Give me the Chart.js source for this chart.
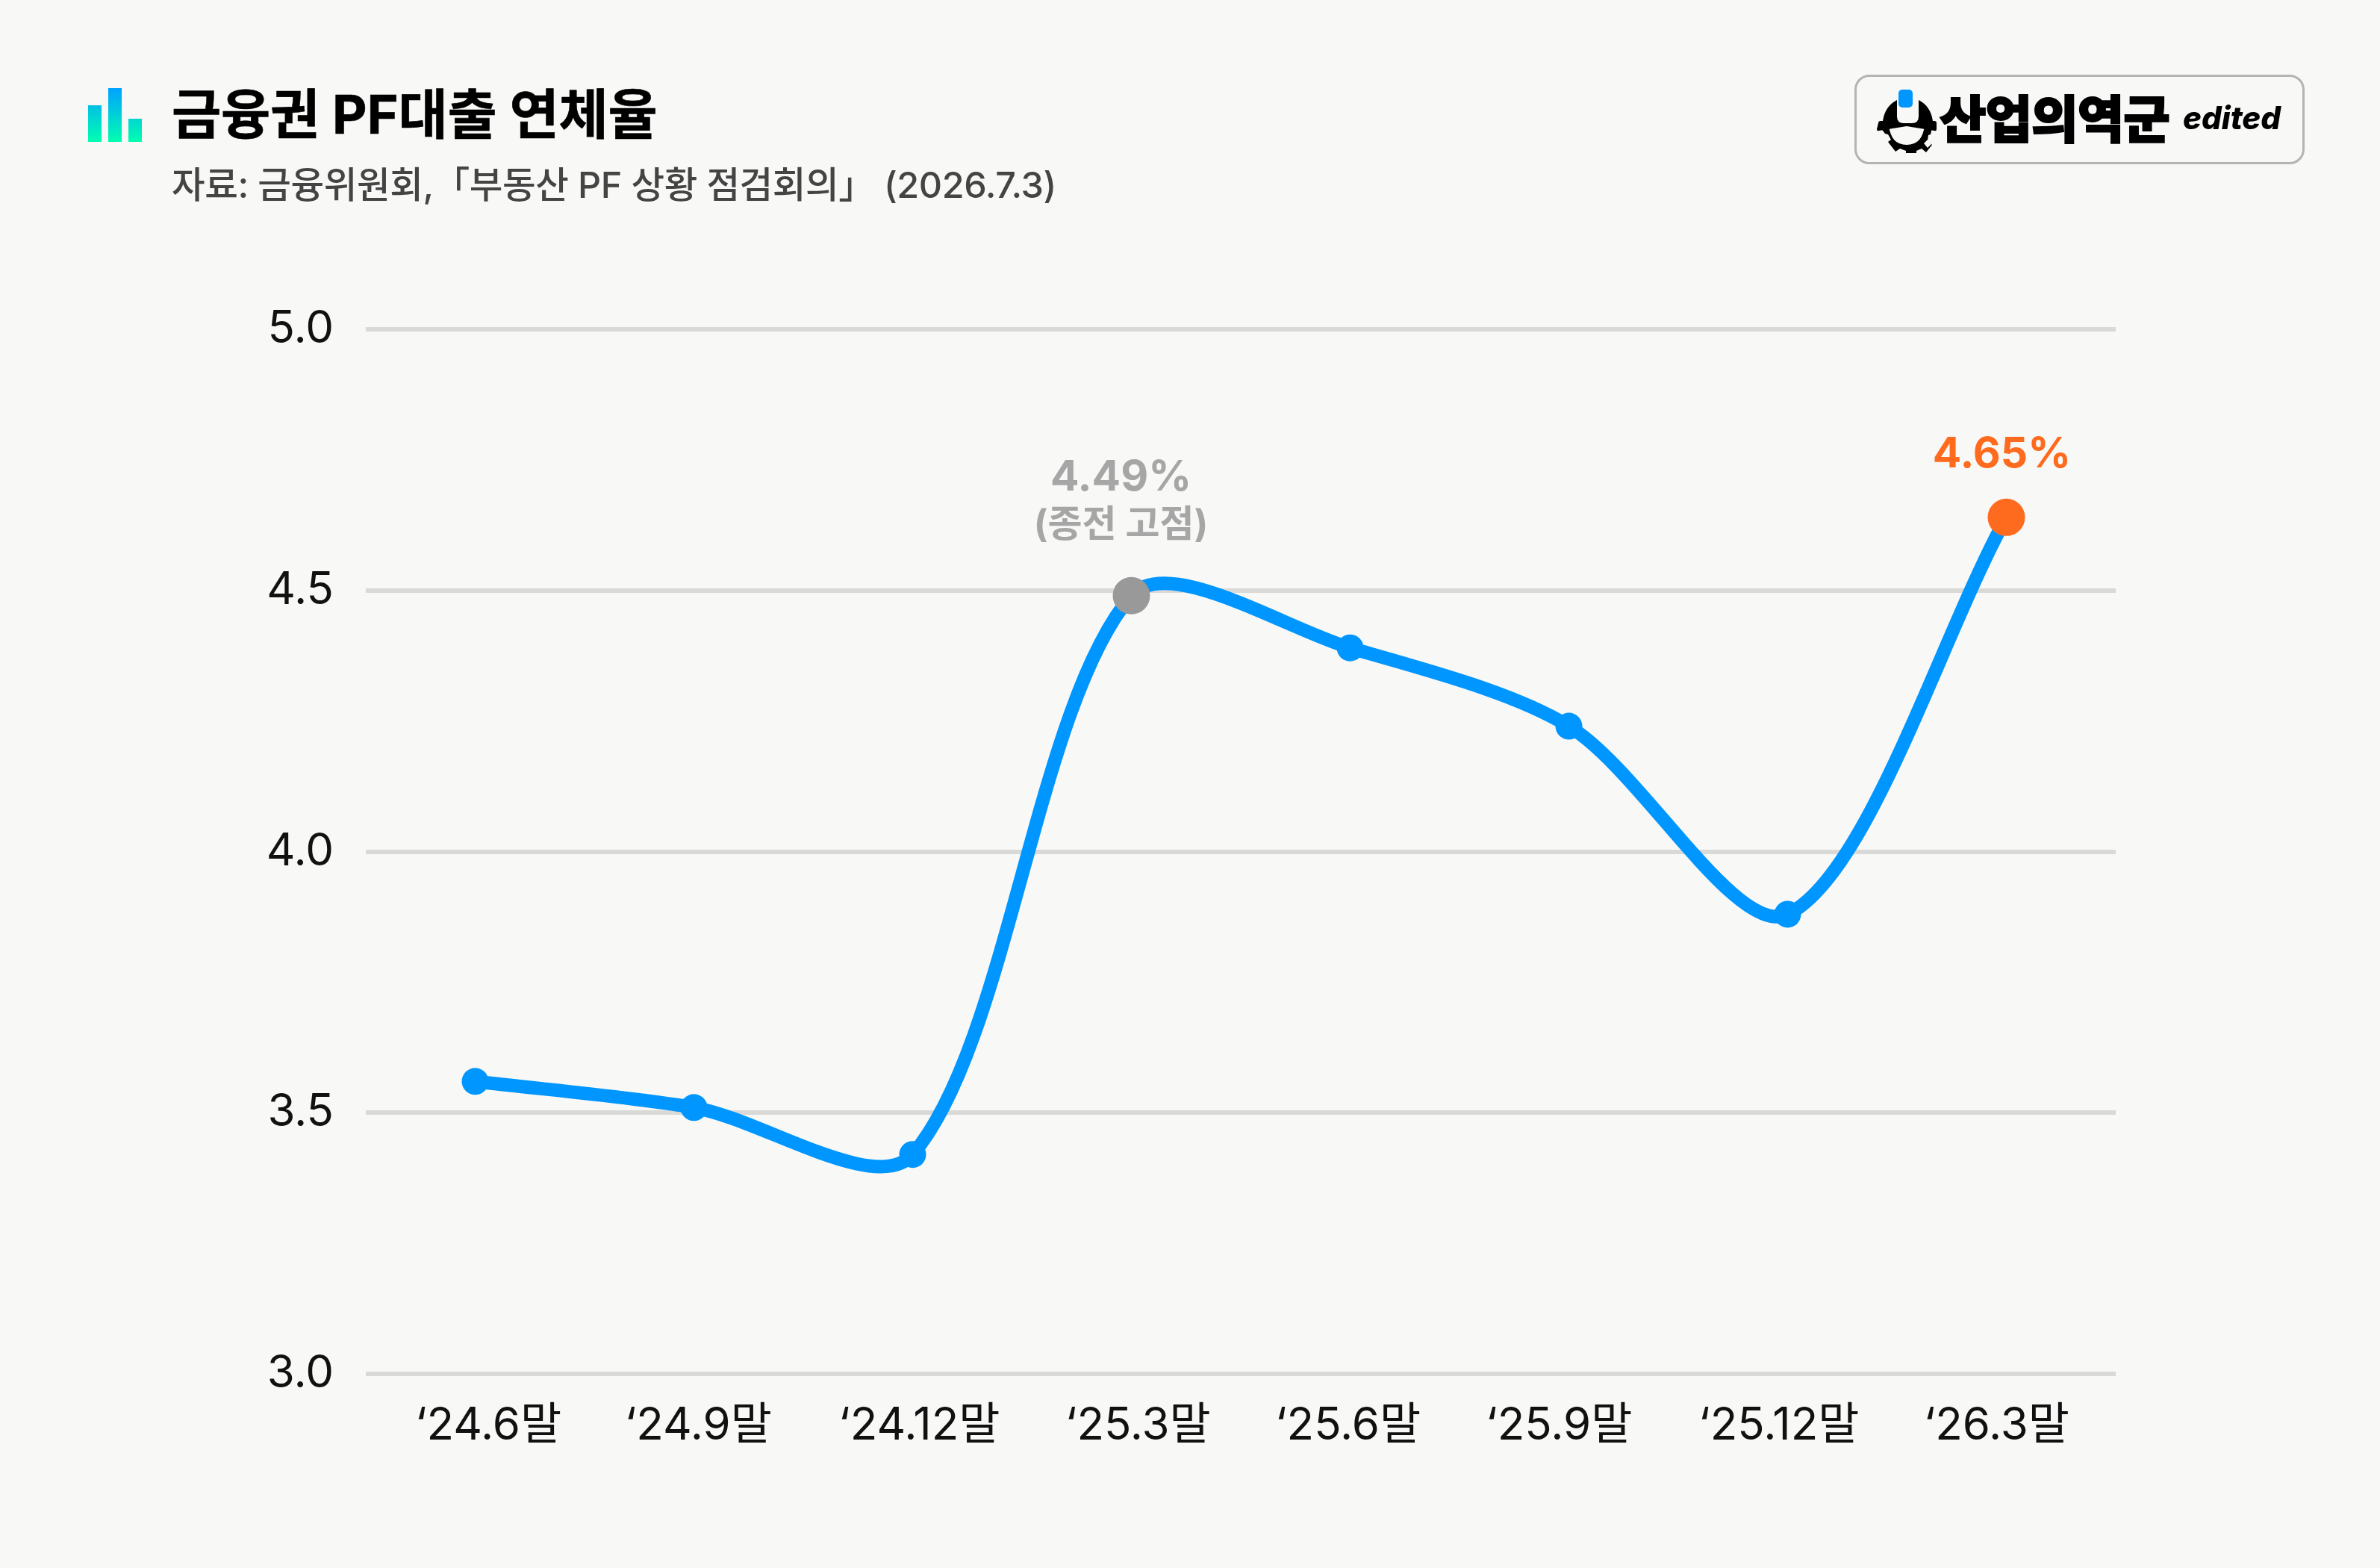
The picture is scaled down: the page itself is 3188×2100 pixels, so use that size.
<!DOCTYPE html>
<html lang="ko">
<head>
<meta charset="utf-8">
<title>금융권 PF대출 연체율</title>
<script src="https://cdn.jsdelivr.net/npm/chart.js@4/dist/chart.umd.min.js"></script>
<style>
html,body{margin:0;padding:0;background:#F8F8F6;width:3188px;height:2100px;overflow:hidden}
body{position:relative;font-family:Inter,"Noto Sans CJK KR",sans-serif}
canvas{position:absolute;left:0;top:0}
.t{position:absolute;white-space:nowrap;line-height:1}
#title{left:230px;top:117px;font-size:72px;font-weight:700;color:#000;letter-spacing:-.2px;-webkit-text-stroke:.6px #000}
#sub{left:230px;top:224px;font-size:48.5px;font-weight:500;color:#444;letter-spacing:-.4px}
#logo{position:absolute;left:2484px;top:100px;width:597px;height:114px;border:3px solid #B4B4B2;border-radius:20px}
#logoName{left:2598px;top:126px;font-size:68px;font-weight:900;color:#000;letter-spacing:-1px;-webkit-text-stroke:2px #000}
#logoEd{left:2924px;top:137px;font-size:42px;font-weight:800;font-style:italic;color:#000}
svg{position:absolute}
</style>
</head>
<body>
<canvas id="c" width="3188" height="2100"></canvas>
<svg style="left:110px;top:110px" width="90" height="90" viewBox="110 110 90 90">
<defs><linearGradient id="g" gradientUnits="userSpaceOnUse" x1="0" y1="118" x2="0" y2="190"><stop offset="0" stop-color="#00A2FF"/><stop offset="1" stop-color="#00FFB0"/></linearGradient></defs>
<rect x="118" y="141" width="18" height="49" fill="url(#g)"/><rect x="145" y="118" width="18" height="72" fill="url(#g)"/><rect x="172" y="159" width="18" height="31" fill="url(#g)"/>
</svg>
<div class="t" id="title">금융권 PF대출 연체율</div>
<div class="t" id="sub">자료: 금융위원회,「부동산 PF 상황 점검회의」 (2026.7.3)</div>
<div id="logo"></div>
<svg style="left:2510px;top:115px" width="90" height="90" viewBox="2510 115 90 90">
<path d="M2516 165 q0 -3 3 -3 h3 q3 -20 19 -28 v22 q0 9 9 9 h11 q9 0 9 -9 v-22 q16 8 19 28 h2 q3 0 3 3 v8 q0 3 -3 2 l-37 -6 l-37 6 q-3 1 -3 -2z" fill="#000"/>
<rect x="2542" y="119" width="21" height="26" rx="6" fill="#0096FF" stroke="#F8F8F6" stroke-width="2"/>
<path d="M2519 171 l11 -3 q3 26 24 26 q21 0 24 -26 l10 3 l-2 9 l-3 1 l-1 7 l6 6 l-8 10 l-6 -5 l-7 3 v4 h-14 v-4 l-8 -3 l-6 4 l-10 -13 l4 -3 l-4 -7 l-4 -1z" fill="#000"/>
<path d="M2577 192 l5 -5 l5 6 l-5 5z" fill="#F8F8F6"/>
</svg>
<div class="t" id="logoName">산업의역군</div>
<div class="t" id="logoEd">edited</div>
<script>
const categories = ["‘24.6말","‘24.9말","‘24.12말","‘25.3말","‘25.6말","‘25.9말","‘25.12말","‘26.3말"];
const delinquencyRate = [3.56,3.51,3.42,4.49,4.39,4.24,3.88,4.64];
const yTicks = [3.0,3.5,4.0,4.5,5.0];
const pointColors = ["#0096FF","#0096FF","#0096FF","#999999","#0096FF","#0096FF","#0096FF","#FF6B1E"];
const pointSizes = [18,18,18,25,18,18,18,25];
const tickNudges = [0.06,0.02,0.03,0.03,-0.01,-0.045,-0.04,-0.045];
const F = 'Inter,"Noto Sans CJK KR",sans-serif';

const callouts = {
  id:'callouts',
  afterDatasetsDraw(chart){
    const pts = chart.getDatasetMeta(0).data, ctx = chart.ctx;
    const put=(txt,x,y,size,color)=>{ctx.font='700 '+size+'px '+F;ctx.fillStyle=color;ctx.textAlign='center';ctx.textBaseline='alphabetic';ctx.fillText(txt,x,y);};
    ctx.save();
    put('4.49%',pts[3].x-14,657,57,'#A6A6A6');
    put('(종전 고점)',pts[3].x-14,719,50,'#A6A6A6');
    put('4.65%',pts[7].x-6,626,57,'#FF6B1E');
    ctx.restore();
  }
};

new Chart(document.getElementById('c'),{
  type:'line',
  plugins:[callouts],
  data:{labels:categories,datasets:[{
    data:delinquencyRate,borderColor:'#0096FF',borderWidth:18,tension:0.3,fill:false,clip:false,
    pointBackgroundColor:pointColors,pointBorderWidth:0,pointRadius:pointSizes,pointHoverRadius:pointSizes
  }]},
  options:{
    responsive:false,animation:false,devicePixelRatio:1,
    layout:{padding:{top:441,right:354,bottom:0,left:0}},
    plugins:{legend:{display:false},tooltip:{enabled:false},title:{display:false}},
    scales:{
      x:{
        offset:true,
        grid:{display:false},border:{display:false},
        afterFit(s){s.height=260;},
        afterBuildTicks(s){s.ticks=s.ticks.map((t,i)=>({...t,value:t.value+tickNudges[i]}));},
        ticks:{padding:26,color:'#111',font:{family:F,size:60},autoSkip:false,maxRotation:0,callback:(v,i)=>categories[i]}
      },
      y:{
        min:3,max:5,
        afterFit(s){s.width=490;},
        afterBuildTicks(s){s.ticks=yTicks.map(v=>({value:v}));},
        grid:{color:'#D9D9D7',lineWidth:6,drawTicks:false},border:{display:false},
        ticks:{padding:43,color:'#111',font:{family:F,size:60},callback:v=>v.toFixed(1)}
      }
    }
  }
});
</script>
</body>
</html>
